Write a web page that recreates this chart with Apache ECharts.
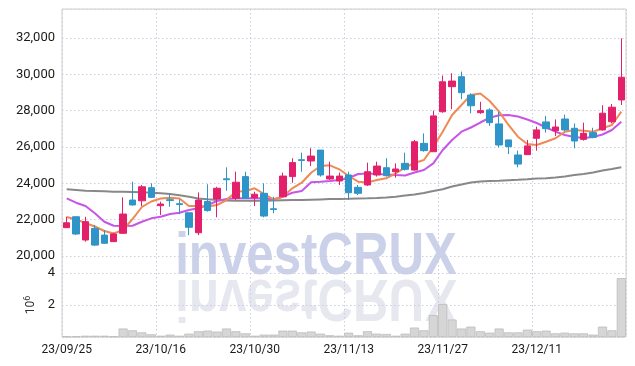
<!DOCTYPE html>
<html>
<head>
<meta charset="utf-8">
<script src="https://cdn.jsdelivr.net/npm/echarts@6/dist/echarts.min.js"></script>
<style>html,body{margin:0;padding:0;background:#fff;}#c{width:635px;height:366px;}</style>
</head>
<body>
<div id="c"></div>
<script>
const dates = ['23/09/25','23/09/26','23/09/27','23/10/04','23/10/05','23/10/06','23/10/10','23/10/11','23/10/12','23/10/13',
'23/10/16','23/10/17','23/10/18','23/10/19','23/10/20','23/10/23','23/10/24','23/10/25','23/10/26','23/10/27',
'23/10/30','23/10/31','23/11/01','23/11/02','23/11/03','23/11/06','23/11/07','23/11/08','23/11/09','23/11/10',
'23/11/13','23/11/14','23/11/15','23/11/16','23/11/17','23/11/20','23/11/21','23/11/22','23/11/23','23/11/24',
'23/11/27','23/11/28','23/11/29','23/11/30','23/12/01','23/12/04','23/12/05','23/12/06','23/12/07','23/12/08',
'23/12/11','23/12/12','23/12/13','23/12/14','23/12/15','23/12/18','23/12/19','23/12/20','23/12/21','23/12/22'];

const openP  = [21560,22160,20880,21520,21150,20790,21250,23080,23040,23760,22770,23100,22880,22380,21280,23000,23140,24250,23180,24370,
                23210,23450,22600,23260,24370,25300,25230,25830,24240,24130,24460,23780,23910,24460,24860,24640,25100,24730,26200,25740,
                27940,29320,29870,28860,27890,28040,27270,26390,25560,25580,26480,27380,26900,27540,27030,26420,26790,26940,27390,28590];
const closeP = [21830,21210,21890,20600,20700,21210,22310,22810,23810,23230,22860,23050,22830,21580,23080,22500,23730,24200,24060,23180,
                23400,22200,22560,24400,25140,25260,25500,24460,24400,24400,23480,23450,24640,24950,24420,24790,24770,26290,25800,27710,
                29590,29630,28990,28270,28000,27340,26110,26020,25060,26060,26940,27010,27100,26940,26330,26750,26530,27860,28190,29840];
const lowP   = [21540,21150,20790,20550,20660,20780,21210,22770,22750,23190,22260,22710,22300,21150,21150,22440,22130,23590,23080,23140,
                22750,22130,22350,23260,24030,24640,24950,24370,24180,23910,23080,23360,23850,24370,24370,24310,24700,24700,25740,25740,
                27890,28080,28630,27860,27820,27160,25980,25610,24880,25560,25800,26790,26610,26880,25930,26350,26480,26900,27300,28310];
const highP  = [22160,22180,22160,21710,21430,21280,23230,24090,23910,24000,22990,23410,23120,22380,23500,23950,23810,24880,24640,24640,
                23540,24000,23260,24590,25380,25690,25930,25830,25190,24590,24640,23910,25140,25190,25380,25100,25690,26390,26750,28000,
                29930,30060,30150,28960,28490,28130,27940,26400,25800,26390,27120,27710,27520,27780,27300,27340,27060,28300,28370,31980];
const ma5  = [22146,22008,21816,21623,21375,21238,21430,22036,22697,23000,23164,23208,23164,22752,22752,22724,22807,23082,23539,23577,
              23726,23412,23120,23264,23726,24034,24585,24954,24992,24772,24403,24089,24045,24183,24276,24552,24871,25119,25284,26016,
              26842,27761,28312,28862,28945,28532,27943,27211,26567,26165,26110,26291,26479,26842,26935,26897,26842,27029,27211,27943];
const ma10 = [23175,22933,22752,22350,21887,21667,21651,21667,21887,22074,22162,22311,22383,22531,22625,22807,23027,23137,23175,23175,
              23175,23175,23110,23264,23484,23577,24056,24089,24128,24183,24293,24513,24541,24513,24486,24458,24431,24596,24733,25102,
              25834,26385,26842,27073,27348,27613,27745,27761,27679,27514,27321,27073,26842,26660,26550,26495,26550,26688,26935,27392];
const maLong = [23671,23632,23594,23577,23561,23539,23533,23522,23506,23478,23451,23412,23341,23264,23165,23120,23082,23054,23043,23043,
                23043,23043,23054,23065,23076,23082,23098,23115,23131,23137,23148,23165,23175,23192,23219,23258,23330,23385,23467,23577,
                23671,23825,23935,24045,24100,24128,24144,24172,24194,24221,24265,24282,24320,24375,24458,24513,24596,24706,24788,24882];
const volume = [0.04,0.04,0.08,0.08,0.08,0.04,0.53,0.42,0.29,0.17,0.08,0.15,0.08,0.21,0.36,0.40,0.34,0.53,0.36,0.23,
                0.08,0.15,0.15,0.40,0.40,0.29,0.34,0.21,0.11,0.08,0.27,0.11,0.36,0.21,0.19,0.08,0.21,0.59,0.42,1.37,
                2.06,1.09,0.53,0.65,0.36,0.27,0.53,0.29,0.29,0.46,0.36,0.40,0.23,0.27,0.23,0.23,0.15,0.65,0.42,3.68];
const priceTicks = [20000, 22000, 24000, 26000, 28000, 30000, 32000];
const volTicks = [2, 4];

const candleData = dates.map((d, i) => [openP[i], closeP[i], lowP[i], highP[i]]);
const volData = volume.map(v => v * 1e6);

const chart = echarts.init(document.getElementById('c'), null, {renderer: 'canvas'});
const FONT = 'Roboto, "Liberation Sans", sans-serif';
const gridLine = {show: true, lineStyle: {color: '#c9cde0', type: [1.5, 2.5], width: 1}};
const WM_FONT = 'bold 60px "Liberation Sans", Arial, sans-serif';

chart.setOption({
  animation: false,
  backgroundColor: '#fff',
  graphic: [
    {type: 'text', x: 316, y: 287, scaleX: 0.82, z: 0, silent: true,
     style: {text: 'investCRUX', fill: 'rgba(160,172,214,0.55)', font: WM_FONT, textAlign: 'center', textVerticalAlign: 'bottom'}},
    {type: 'text', x: 316, y: 267, scaleX: 0.82, scaleY: -1, z: 0, silent: true,
     style: {text: 'investCRUX', fill: 'rgba(195,198,218,0.42)', font: WM_FONT, textAlign: 'center', textVerticalAlign: 'bottom'}}
  ],
  grid: [
    {left: 62, right: 9, top: 9, height: 328, show: true, borderColor: '#cfcfcf', borderWidth: 1, backgroundColor: 'transparent'},
    {left: 62, right: 9, top: 9, height: 247},
    {left: 62, right: 9, top: 273, height: 64}
  ],
  xAxis: [
    {type: 'category', gridIndex: 0, data: dates, boundaryGap: true,
     axisLine: {show: false}, axisTick: {show: false},
     axisLabel: {interval: 9, color: '#1a1a1a', fontSize: 12, fontFamily: FONT, margin: 7},
     splitLine: {show: true, interval: 9, lineStyle: {color: '#c9cde0', type: [1.5, 2.5], width: 1}}},
    {type: 'category', gridIndex: 1, data: dates, boundaryGap: true, show: false},
    {type: 'category', gridIndex: 2, data: dates, boundaryGap: true, show: false}
  ],
  yAxis: [
    {type: 'value', gridIndex: 0, show: false, splitLine: {show: false}},
    {type: 'value', gridIndex: 1, min: priceTicks[0], max: 33596, interval: priceTicks[1] - priceTicks[0],
     axisLine: {show: false}, axisTick: {show: false},
     axisLabel: {color: '#1a1a1a', fontSize: 13, fontFamily: FONT, margin: 7, showMaxLabel: false,
       formatter: v => priceTicks.indexOf(v) >= 0 ? v.toLocaleString('en-US') : ''},
     splitLine: gridLine},
    {type: 'value', gridIndex: 2, min: 0, max: volTicks[1] * 1e6, interval: volTicks[0] * 1e6,
     axisLine: {show: false}, axisTick: {show: false},
     axisLabel: {color: '#1a1a1a', fontSize: 13, fontFamily: FONT, margin: 7, showMinLabel: false,
       formatter: v => String(v / 1e6)},
     splitLine: gridLine,
     name: '10{s|6}', nameLocation: 'middle', nameRotate: 90, nameGap: 24,
     nameTextStyle: {color: '#333', fontSize: 12, fontFamily: FONT, rich: {s: {fontSize: 9, verticalAlign: 'top', padding: [0,0,6,0], color: '#333'}}}}
  ],
  series: [
    {type: 'bar', xAxisIndex: 2, yAxisIndex: 2, data: volData, barCategoryGap: '3%',
     itemStyle: {color: '#d6d6d6', borderColor: '#bdbdbd', borderWidth: 0.8}, z: 2},
    {type: 'line', xAxisIndex: 1, yAxisIndex: 1, data: maLong, symbol: 'none', smooth: false,
     lineStyle: {color: '#888888', width: 2}, z: 3},
    {type: 'line', xAxisIndex: 1, yAxisIndex: 1, data: ma10, symbol: 'none', smooth: false,
     lineStyle: {color: '#c756e6', width: 2}, z: 3},
    {type: 'line', xAxisIndex: 1, yAxisIndex: 1, data: ma5, symbol: 'none', smooth: false,
     lineStyle: {color: '#ee8a55', width: 2}, z: 3},
    {type: 'candlestick', xAxisIndex: 1, yAxisIndex: 1, data: candleData, barWidth: 7,
     itemStyle: {color: '#e3206a', color0: '#2f94c8', borderColor: '#e3206a', borderColor0: '#2f94c8', borderWidth: 1}, z: 4}
  ]
});
</script>
</body>
</html>
